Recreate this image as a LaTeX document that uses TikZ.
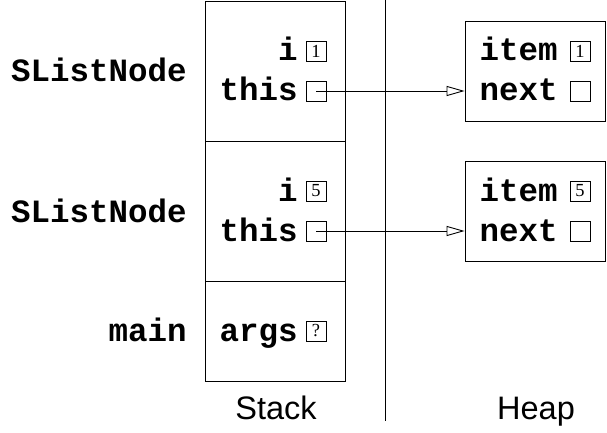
\documentclass[tikz,border=0pt]{standalone}
\usepackage{fontspec}
\setmainfont{Liberation Serif}
\setsansfont{Liberation Sans}
\setmonofont{Liberation Mono}
\usetikzlibrary{arrows.meta}

\begin{document}
\begin{tikzpicture}[x=0.02cm,y=-0.02cm,line width=0.5pt,
  frame/.style={draw,rectangle,minimum width=2.8cm},
  cell/.style={draw,rectangle,minimum size=0.4cm,inner sep=0pt,
    font=\fontsize{10.5}{11}\selectfont},
  fld/.style={anchor=base east,inner sep=0pt,
    font=\fontsize{18.5}{20}\selectfont\ttfamily\bfseries},
  ptr/.style={-{Triangle[open,length=0.36cm,width=0.2cm]}},
  caption/.style={anchor=base,inner sep=0pt,
    font=\fontsize{18.5}{20}\selectfont\sffamily}]
\useasboundingbox (0,0) rectangle (607,432);

% stack frames
\node (s1) at (275,71) [frame,minimum height=2.8cm] {};
\node (s2) at (275,211) [frame,minimum height=2.8cm] {};
\node (s3) at (275,331) [frame,minimum height=2cm] {};
\node (n1) at (187,82) [fld] {SListNode};
\node (n2) at (187,222) [fld] {SListNode};
\node (n3) at (187,341) [fld] {main};

\node (fi1) at (298,61) [fld] {i};
\node (ft1) at (298,101) [fld] {this};
\node (fi2) at (298,201) [fld] {i};
\node (ft2) at (298,241) [fld] {this};
\node (fa) at (298,341) [fld] {args};
\node (vi1) at (316,51) [cell] {1};
\node (vt1) at (316,91) [cell] {};
\node (vi2) at (316,191) [cell] {5};
\node (vt2) at (316,231) [cell] {};
\node (va) at (316,331) [cell] {?};

% heap objects
\node (h1) at (535,71) [frame,minimum height=2cm] {};
\node (h2) at (535,211) [frame,minimum height=2cm] {};
\node (hi1) at (558,61) [fld] {item};
\node (hn1) at (558,101) [fld] {next};
\node (hi2) at (558,201) [fld] {item};
\node (hn2) at (558,241) [fld] {next};
\node (wi1) at (580,51) [cell] {1};
\node (wn1) at (580,91) [cell] {};
\node (wi2) at (580,191) [cell] {5};
\node (wn2) at (580,231) [cell] {};

% divider
\coordinate (top) at (385,0);
\coordinate (bot) at (385,421);
\draw (top) -- (bot);

\node (stk) at (276,419) [caption] {Stack};
\node (hp) at (536,419) [caption] {Heap};

\draw[ptr] (vt1.center) -- (vt1.center -| h1.west);
\draw[ptr] (vt2.center) -- (vt2.center -| h2.west);
\end{tikzpicture}
\end{document}
